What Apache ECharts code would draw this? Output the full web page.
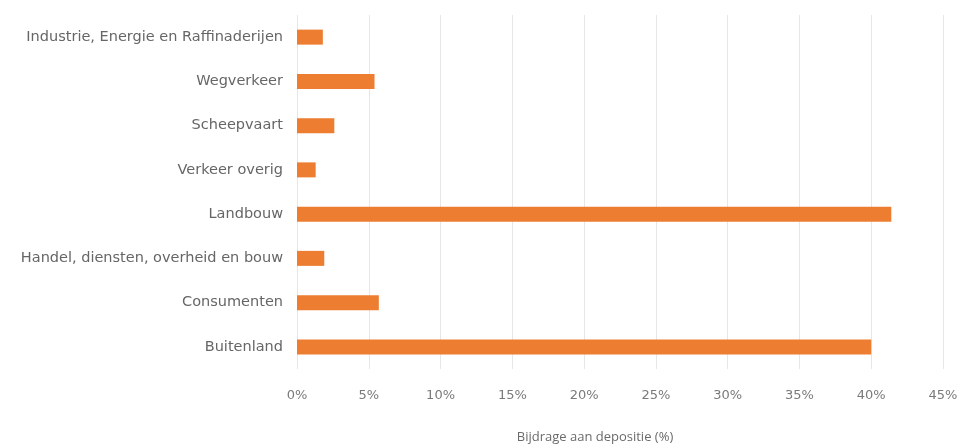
<!DOCTYPE html>
<html>
<head>
<meta charset="utf-8">
<script src="https://cdn.jsdelivr.net/npm/echarts@6/dist/echarts.min.js"></script>
<style>html,body{margin:0;padding:0;background:#fff;}#c{width:958px;height:444px;}</style>
</head>
<body>
<div id="c"></div>
<script>
const categories = ["Industrie, Energie en Raffinaderijen","Wegverkeer","Scheepvaart","Verkeer overig","Landbouw","Handel, diensten, overheid en bouw","Consumenten","Buitenland"];
const values = [1.8, 5.4, 2.6, 1.3, 41.4, 1.9, 5.7, 40.0];
const axisTitle = "Bijdrage aan depositie (%)";

const chart = echarts.init(document.getElementById('c'), null, {renderer:'canvas'});
chart.setOption({
  animation:false,
  backgroundColor:'#fff',
  grid:{left:297, right:15, top:15, bottom:75, containLabel:false, outerBoundsMode:'none'},
  xAxis:{
    type:'value', min:0, max:45, interval:5,
    axisLabel:{formatter:v=>v+'%', color:'#7a7a7a', fontSize:13, margin:20, fontFamily:'DejaVu Sans'},
    splitLine:{lineStyle:{color:'#e6e6e6', width:1}},
    axisLine:{show:false}, axisTick:{show:false},
    name:axisTitle, nameLocation:'middle', nameGap:62,
    nameTextStyle:{color:'#6b6b6b', fontSize:13, padding:[0,50,0,0], fontFamily:'Open Sans'}
  },
  yAxis:{
    type:'category', data:categories, inverse:true,
    axisLine:{show:false}, axisTick:{show:false},
    axisLabel:{color:'#666666', fontSize:14.5, margin:14, fontFamily:'DejaVu Sans'}
  },
  series:[{type:'bar', data:values, barWidth:15, itemStyle:{color:'#ED7D31'}}]
});
</script>
</body>
</html>
